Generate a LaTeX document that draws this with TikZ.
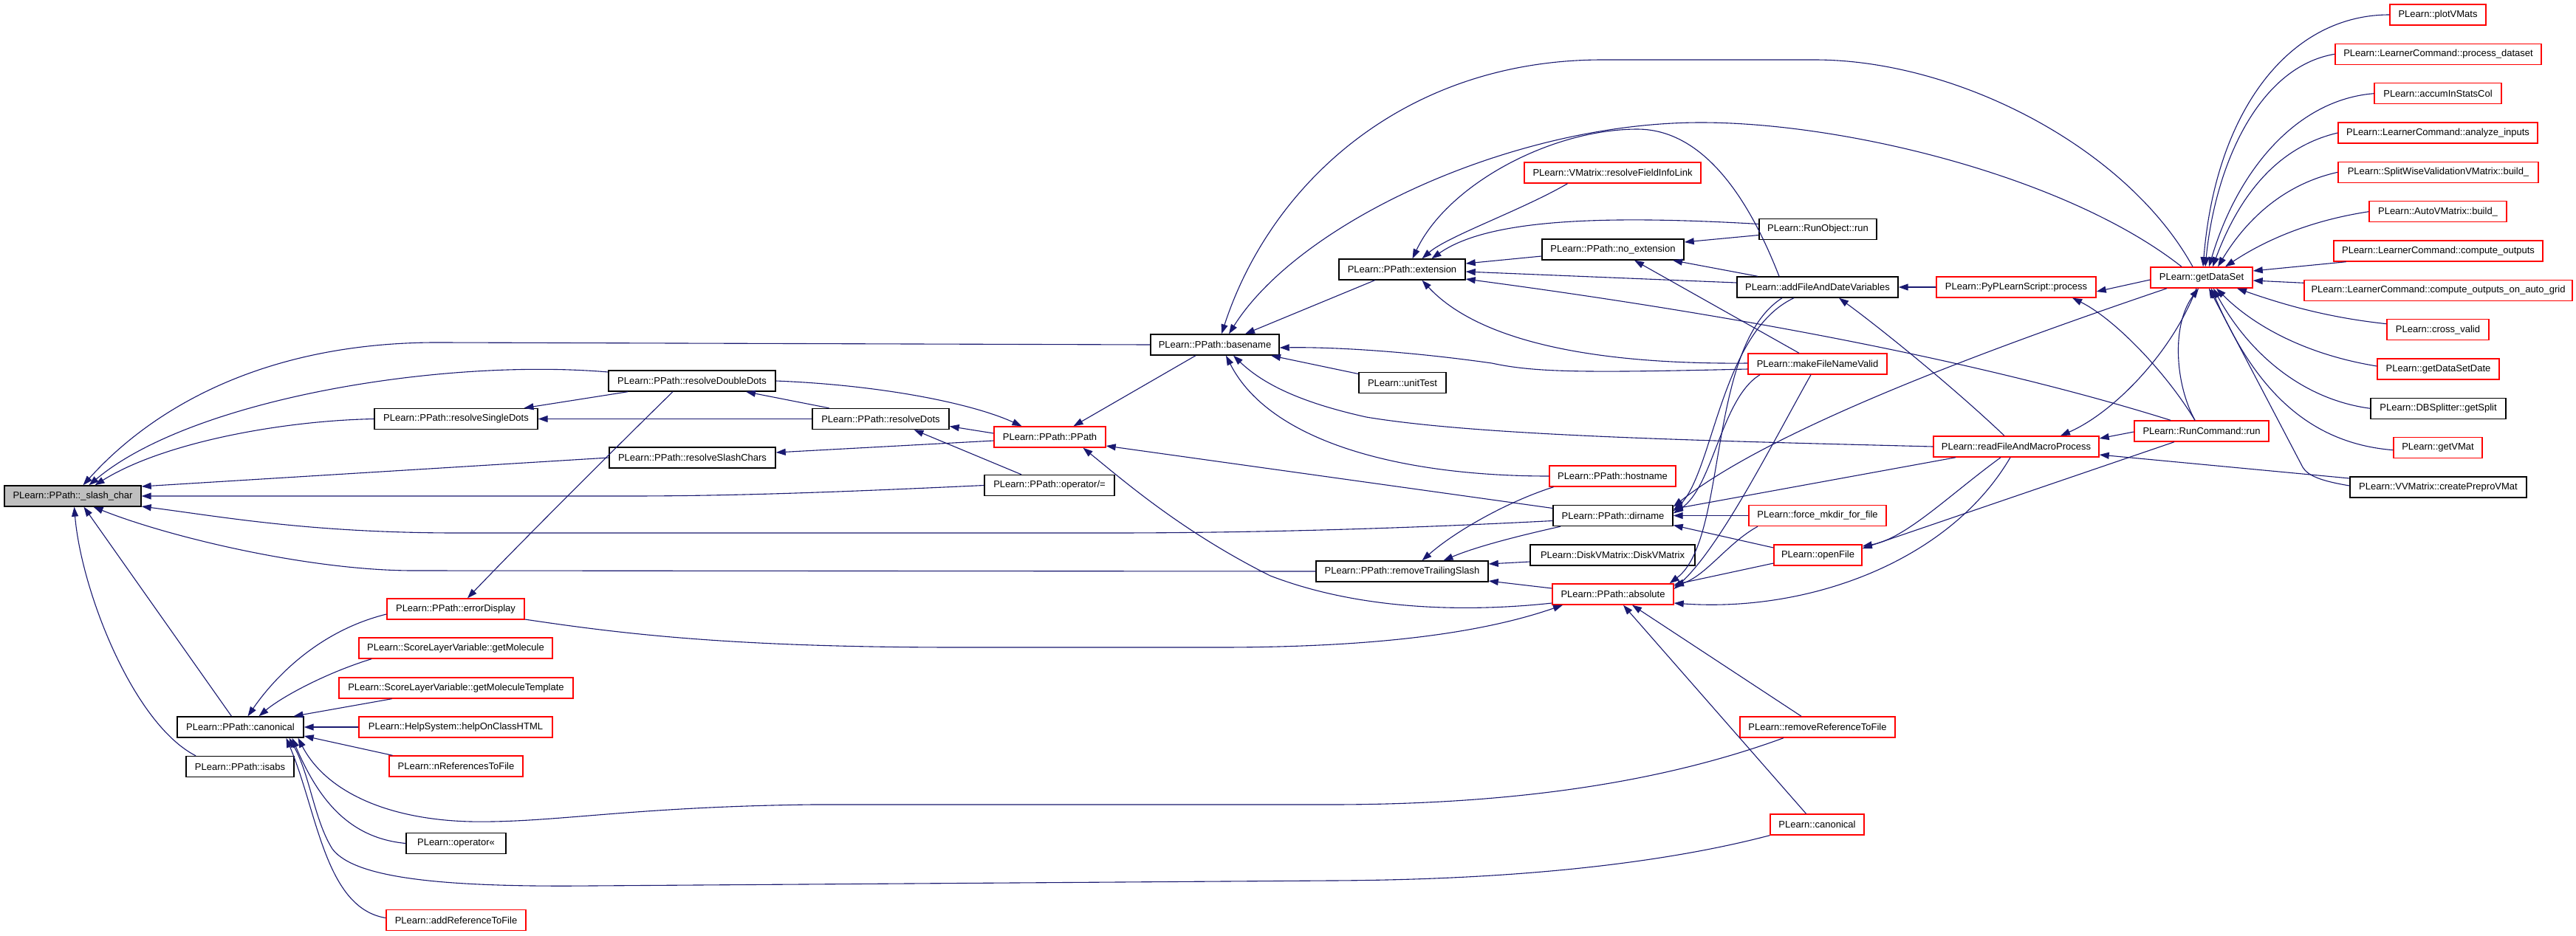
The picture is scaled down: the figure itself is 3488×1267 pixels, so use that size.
\documentclass[tikz,border=0pt]{standalone}
\usepackage{fontspec}
\setmainfont{Liberation Sans}
\usetikzlibrary{arrows.meta}
\definecolor{edgeblue}{HTML}{191970}
\definecolor{nodegray}{HTML}{BFBFBF}
\begin{document}
\begin{tikzpicture}[x=1pt,y=-1pt,
	fn/.style={draw=black, fill=white, line width=1.4pt, minimum height=28pt, inner xsep=3pt, inner ysep=0pt, font=\fontsize{13}{15}\selectfont},
	fnred/.style={fn, draw=red},
	call/.style={draw=edgeblue, line width=1.1pt, -{Triangle[length=13pt,width=9pt]}}]
	\useasboundingbox (0,0) rectangle (3488,1267);
	\fill[white] (0,0) rectangle (3488,1267);
	% functions, from the callee on the left to the callers on the right
	\node[fn, fill=nodegray, minimum width=185pt] (slash) at (98.5,672) {PLearn::PPath::\_slash\_char};
	\node[fn, minimum width=171pt] (canon) at (325.5,985) {PLearn::PPath::canonical};
	\node[fn, minimum width=146pt] (isabs) at (325,1038.5) {PLearn::PPath::isabs};
	\node[fn, minimum width=221pt] (rsingle) at (617.5,567.5) {PLearn::PPath::resolveSingleDots};
	\node[fnred, minimum width=186pt] (errdisp) at (617,825) {PLearn::PPath::errorDisplay};
	\node[fnred, minimum width=262pt] (getmol) at (617,878) {PLearn::ScoreLayerVariable::getMolecule};
	\node[fnred, minimum width=317pt] (getmolt) at (617.5,932) {PLearn::ScoreLayerVariable::getMoleculeTemplate};
	\node[fnred, minimum width=262pt] (helpon) at (617,985) {PLearn::HelpSystem::helpOnClassHTML};
	\node[fnred, minimum width=181pt] (nref) at (617.5,1038) {PLearn::nReferencesToFile};
	\node[fn, minimum width=135pt] (oplt) at (617.5,1142.5) {PLearn::operator<<};
	\node[fnred, minimum width=189pt] (addref) at (617.5,1246.5) {PLearn::addReferenceToFile};
	\node[fn, minimum width=226pt] (rdouble) at (937,516) {PLearn::PPath::resolveDoubleDots};
	\node[fn, minimum width=225pt] (rslash) at (937.5,620) {PLearn::PPath::resolveSlashChars};
	\node[fn, minimum width=185pt] (rdots) at (1192.5,567.5) {PLearn::PPath::resolveDots};
	\node[fnred, minimum width=151pt] (ppath) at (1421.5,592) {PLearn::PPath::PPath};
	\node[fn, minimum width=176pt] (opdiv) at (1421,657.5) {PLearn::PPath::operator/=};
	\node[fn, minimum width=174pt] (basename) at (1645,467) {PLearn::PPath::basename};
	\node[fn, minimum width=171pt] (extension) at (1898.5,365) {PLearn::PPath::extension};
	\node[fn, minimum width=118pt] (unittest) at (1899,518.5) {PLearn::unitTest};
	\node[fn, minimum width=233pt] (rtrail) at (1898.5,774) {PLearn::PPath::removeTrailingSlash};
	\node[fnred, minimum width=239pt] (rfil) at (2183.5,234) {PLearn::VMatrix::resolveFieldInfoLink};
	\node[fn, minimum width=192pt] (noext) at (2184,338) {PLearn::PPath::no\_extension};
	\node[fnred, minimum width=171pt] (hostname) at (2183.5,645) {PLearn::PPath::hostname};
	\node[fn, minimum width=162pt] (dirname) at (2184,698.5) {PLearn::PPath::dirname};
	\node[fn, minimum width=223pt] (diskvm) at (2183.5,752) {PLearn::DiskVMatrix::DiskVMatrix};
	\node[fnred, minimum width=164pt] (absolute) at (2184,805) {PLearn::PPath::absolute};
	\node[fn, minimum width=159pt] (runobj) at (2461.5,310.5) {PLearn::RunObject::run};
	\node[fn, minimum width=218pt] (addfile) at (2461,389) {PLearn::addFileAndDateVariables};
	\node[fnred, minimum width=188pt] (mkvalid) at (2461,493) {PLearn::makeFileNameValid};
	\node[fnred, minimum width=186pt] (mkdir) at (2461,698.5) {PLearn::force\_mkdir\_for\_file};
	\node[fnred, minimum width=119pt] (openfile) at (2461.5,752) {PLearn::openFile};
	\node[fnred, minimum width=210pt] (rmref) at (2461,985) {PLearn::removeReferenceToFile};
	\node[fnred, minimum width=127pt] (canonred) at (2460.5,1117) {PLearn::canonical};
	\node[fnred, minimum width=216pt] (pyproc) at (2730,389) {PLearn::PyPLearnScript::process};
	\node[fnred, minimum width=224pt] (readfile) at (2730,605) {PLearn::readFileAndMacroProcess};
	\node[fnred, minimum width=138pt] (getds) at (2981,376) {PLearn::getDataSet};
	\node[fnred, minimum width=182pt] (runcmd) at (2981,584) {PLearn::RunCommand::run};
	\node[fnred, minimum width=130pt] (plotvm) at (3301,20) {PLearn::plotVMats};
	\node[fnred, minimum width=279pt] (procds) at (3301.5,73.3) {PLearn::LearnerCommand::process\_dataset};
	\node[fnred, minimum width=172pt] (accum) at (3301,126.7) {PLearn::accumInStatsCol};
	\node[fnred, minimum width=270pt] (analyze) at (3301,180) {PLearn::LearnerCommand::analyze\_inputs};
	\node[fnred, minimum width=271pt] (splitwise) at (3301.5,233.3) {PLearn::SplitWiseValidationVMatrix::build\_};
	\node[fnred, minimum width=186pt] (autovm) at (3301,286.7) {PLearn::AutoVMatrix::build\_};
	\node[fnred, minimum width=283pt] (compout) at (3301.5,340) {PLearn::LearnerCommand::compute\_outputs};
	\node[fnred, minimum width=363pt] (compgrid) at (3301.5,393.3) {PLearn::LearnerCommand::compute\_outputs\_on\_auto\_grid};
	\node[fnred, minimum width=138pt] (crossv) at (3301,446.7) {PLearn::cross\_valid};
	\node[fnred, minimum width=165pt] (getdsdate) at (3301.5,500) {PLearn::getDataSetDate};
	\node[fn, minimum width=183pt] (dbsplit) at (3301.5,553.3) {PLearn::DBSplitter::getSplit};
	\node[fnred, minimum width=120pt] (getvmat) at (3301,606.7) {PLearn::getVMat};
	\node[fn, minimum width=239pt] (prepro) at (3301.5,660) {PLearn::VVMatrix::createPreproVMat};
	% calls into _slash_char
	\draw[call] (basename.west) -- (600,464) .. controls (350,462) and (200,560) .. ([xshift=14pt]slash.north);
	\draw[call] ([yshift=12pt]rdouble.west) .. controls (600,485) and (260,540) .. ([xshift=22pt]slash.north);
	\draw[call] (rsingle.west) .. controls (380,570) and (220,600) .. ([xshift=30pt]slash.north);
	\draw[call] (rslash.west) -- ([yshift=13pt]slash.east);
	\draw[call] (opdiv.west) .. controls (1150,666) and (1000,672) .. (850,672) -- (slash.east);
	\draw[call] ([yshift=-7pt]dirname.west) .. controls (1900,716) and (1700,722) .. (1500,722) -- (620,722) .. controls (420,722) and (300,700) .. ([yshift=-14pt]slash.east);
	\draw[call] (rtrail.west) -- (560,773) .. controls (420,773) and (230,728) .. ([xshift=28pt]slash.south);
	\draw[call] ([xshift=-60pt]isabs.north) .. controls (180,980) and (110,800) .. ([xshift=2pt]slash.south);
	\draw[call] ([xshift=-12pt]canon.north) -- ([xshift=15pt]slash.south);
	% PPath helpers
	\draw[call] ([xshift=-87pt]rdouble.south) -- ([xshift=92pt]rsingle.north);
	\draw[call] (rdots.west) -- (rsingle.east);
	\draw[call] ([xshift=-70pt]rdots.north) -- ([xshift=73pt]rdouble.south);
	\draw[call] ([xshift=-26pt]rdouble.south) .. controls (830,610) and (700,740) .. ([xshift=16pt]errdisp.north);
	\draw[call] (rdouble.east) .. controls (1200,522) and (1320,548) .. ([xshift=-38pt]ppath.north);
	\draw[call] ([yshift=5pt]ppath.west) -- ([yshift=-10pt]rdots.east);
	\draw[call] ([yshift=-5pt]ppath.west) -- ([yshift=7pt]rslash.east);
	\draw[call] ([xshift=-38pt]opdiv.north) -- ([xshift=45pt]rdots.south);
	\draw[call] ([xshift=-26pt]basename.south) -- ([xshift=32pt]ppath.north);
	\draw[call] ([yshift=10pt]dirname.west) -- ([yshift=-12pt]ppath.east);
	\draw[call] ([yshift=-12pt]absolute.west) .. controls (2000,828) and (1850,830) .. (1720,780) .. controls (1600,720) and (1520,650) .. ([xshift=45pt]ppath.south);
	% basename and extension
	\draw[call] ([xshift=-37pt]extension.south) -- ([xshift=41pt]basename.north);
	\draw[call] ([yshift=12pt]unittest.west) -- ([xshift=76pt]basename.south);
	\draw[call] (hostname.west) .. controls (1900,645) and (1720,600) .. ([xshift=15pt]basename.south);
	\draw[call] (readfile.west) .. controls (2300,597) and (2000,590) .. (1850,565) .. controls (1760,545) and (1710,520) .. ([xshift=25pt]basename.south);
	\draw[call] ([yshift=-7pt]mkvalid.west) .. controls (2150,505) and (2080,505) .. (2020,492) .. controls (1900,475) and (1800,470) .. ([yshift=-4pt]basename.east);
	\draw[call] ([yshift=1pt]mkvalid.west) .. controls (2150,494) and (2000,460) .. ([xshift=27pt]extension.south);
	\draw[call] ([xshift=-12pt]getds.north) .. controls (2880,200) and (2650,81) .. (2457,81) -- (2170,81) .. controls (1900,81) and (1720,250) .. ([xshift=9pt]basename.north);
	\draw[call] ([xshift=-27pt]getds.north) .. controls (2800,240) and (2500,166) .. (2303,166) .. controls (2050,166) and (1760,300) .. ([xshift=19pt]basename.north);
	\draw[call] ([xshift=-52pt]addfile.north) .. controls (2380,300) and (2320,175) .. (2217,175) .. controls (2100,175) and (1960,250) .. ([xshift=14pt]extension.north);
	\draw[call] ([xshift=-61pt]rfil.south) .. controls (2060,285) and (1960,320) .. ([xshift=27pt]extension.north);
	\draw[call] ([yshift=7pt]runobj.west) .. controls (2150,290) and (2010,300) .. ([xshift=40pt]extension.north);
	\draw[call] ([yshift=-8pt]runobj.west) -- ([yshift=10pt]noext.east);
	\draw[call] ([yshift=-9pt]noext.west) -- ([yshift=8pt]extension.east);
	\draw[call] ([yshift=6pt]addfile.west) -- ([yshift=-3pt]extension.east);
	\draw[call] ([xshift=-42pt]runcmd.north) .. controls (2750,510) and (2450,440) .. ([yshift=-13pt]extension.east);
	\draw[call] ([xshift=-81pt]addfile.north) -- ([xshift=81pt]noext.south);
	\draw[call] ([xshift=-25pt]mkvalid.north) -- ([xshift=29pt]noext.south);
	% scripts and commands
	\draw[call] (pyproc.west) -- (addfile.east);
	\draw[call] ([yshift=-3pt]getds.west) -- ([yshift=-6pt]pyproc.east);
	\draw[call] ([xshift=-9pt]runcmd.north) .. controls (2930,500) and (2860,430) .. ([xshift=76pt]pyproc.south);
	\draw[call] ([xshift=-16pt]readfile.north) .. controls (2640,520) and (2540,440) .. ([xshift=29pt]addfile.south);
	\draw[call] ([xshift=-7pt]getds.south) .. controls (2940,480) and (2860,560) .. ([xshift=60pt]readfile.north);
	\draw[call] ([yshift=-1pt]runcmd.west) -- ([yshift=11pt]readfile.east);
	\draw[call] ([yshift=12pt]prepro.west) -- ([yshift=-11pt]readfile.east);
	\draw[call] ([yshift=2pt]prepro.west) .. controls (3145,652) and (3125,645) .. (3118,633) -- ([xshift=10pt]getds.south);
	\draw[call] ([xshift=-9pt]runcmd.north) .. controls (2945,520) and (2940,440) .. ([xshift=-4pt]getds.south);
	% callers of getDataSet
	\draw[call] (plotvm.west) .. controls (3100,20) and (3000,150) .. ([xshift=2pt]getds.north);
	\draw[call] (procds.west) .. controls (3060,90) and (3000,220) .. ([xshift=5pt]getds.north);
	\draw[call] (accum.west) .. controls (3110,135) and (3030,230) .. ([xshift=10pt]getds.north);
	\draw[call] (analyze.west) .. controls (3080,200) and (3030,270) .. ([xshift=15pt]getds.north);
	\draw[call] (splitwise.west) .. controls (3090,250) and (3040,300) .. ([xshift=22pt]getds.north);
	\draw[call] (autovm.west) .. controls (3120,300) and (3060,330) .. ([xshift=32pt]getds.north);
	\draw[call] ([xshift=-125pt]compout.south) -- ([yshift=9pt]getds.east);
	\draw[call] ([yshift=10pt]compgrid.west) -- ([yshift=-4pt]getds.east);
	\draw[call] ([yshift=8pt]crossv.west) .. controls (3150,430) and (3090,412) .. ([xshift=48pt]getds.south);
	\draw[call] ([yshift=4pt]getdsdate.west) .. controls (3120,480) and (3050,440) .. ([xshift=20pt]getds.south);
	\draw[call] (dbsplit.west) .. controls (3110,540) and (3040,470) .. ([xshift=16pt]getds.south);
	\draw[call] ([yshift=-3pt]getvmat.west) .. controls (3120,600) and (3050,520) .. ([xshift=13pt]getds.south);
	% dirname and absolute
	\draw[call] ([xshift=-47pt]getds.south) .. controls (2700,470) and (2400,580) .. ([yshift=12pt]dirname.east);
	\draw[call] ([xshift=-82pt]readfile.south) -- ([yshift=9pt]dirname.east);
	\draw[call] ([xshift=-21pt]readfile.south) .. controls (2640,670) and (2580,730) .. ([yshift=12pt]openfile.east);
	\draw[call] ([xshift=-37pt]runcmd.south) -- ([yshift=9pt]openfile.east);
	\draw[call] ([xshift=-8pt]readfile.south) .. controls (2640,760) and (2450,830) .. ([yshift=-12pt]absolute.east);
	\draw[call] (mkdir.west) -- (dirname.east);
	\draw[call] ([yshift=10pt]openfile.west) -- ([yshift=-13pt]dirname.east);
	\draw[call] ([yshift=-11pt]openfile.west) -- ([yshift=13pt]absolute.east);
	\draw[call] ([xshift=-81pt]mkdir.south) .. controls (2340,735) and (2310,780) .. ([yshift=11pt]absolute.east);
	\draw[call] ([xshift=-32pt]addfile.south) .. controls (2330,450) and (2320,640) .. ([yshift=6pt]dirname.east);
	\draw[call] ([xshift=-48pt]addfile.south) .. controls (2310,470) and (2340,730) .. ([xshift=-6pt]absolute.north east);
	\draw[call] ([xshift=-78pt]mkvalid.south) .. controls (2330,540) and (2320,660) .. ([yshift=3pt]dirname.east);
	\draw[call] ([xshift=-9pt]mkvalid.south) .. controls (2400,600) and (2330,740) .. ([yshift=7pt]absolute.east);
	\draw[call] ([xshift=-71pt]dirname.south) .. controls (2060,725) and (2000,740) .. ([xshift=56pt]rtrail.north);
	\draw[call] ([xshift=-80pt]hostname.south) .. controls (2040,680) and (1970,720) .. ([xshift=27pt]rtrail.north);
	\draw[call] ([yshift=-9pt]diskvm.west) -- ([yshift=10pt]rtrail.east);
	\draw[call] ([yshift=8pt]absolute.west) -- ([yshift=-13pt]rtrail.east);
	\draw[call] ([yshift=-14pt]errdisp.east) .. controls (850,860) and (1000,877) .. (1300,877) -- (1650,877) .. controls (1850,877) and (2000,860) .. ([xshift=-68pt]absolute.south);
	\draw[call] ([xshift=-22pt]rmref.north) -- ([xshift=26pt]absolute.south);
	\draw[call] ([xshift=-15pt]canonred.north) -- ([xshift=14pt]absolute.south);
	% callers of canonical
	\draw[call] ([xshift=-46pt]rmref.south) .. controls (2250,1060) and (2050,1090) .. (1800,1090) -- (1100,1090) .. controls (850,1093) and (750,1115) .. (637,1113) .. controls (520,1110) and (440,1070) .. ([xshift=78pt]canon.south);
	\draw[call] (oplt.west) .. controls (470,1135) and (430,1080) .. ([xshift=70pt]canon.south);
	\draw[call] (canonred.south west) .. controls (2250,1170) and (2050,1192) .. (1800,1193) -- (800,1200) .. controls (600,1202) and (480,1190) .. (450,1150) .. controls (425,1110) and (420,1050) .. ([xshift=66pt]canon.south);
	\draw[call] ([yshift=3pt]addref.west) .. controls (440,1230) and (430,1100) .. ([xshift=62pt]canon.south);
	\draw[call] ([xshift=-86pt]nref.north) -- ([yshift=-12pt]canon.east);
	\draw[call] (helpon.west) -- (canon.east);
	\draw[call] ([xshift=-87pt]getmolt.south) -- ([xshift=72pt]canon.north);
	\draw[call] ([xshift=-114pt]getmol.south) .. controls (440,912) and (380,945) .. ([xshift=25pt]canon.north);
	\draw[call] ([yshift=-7pt]errdisp.west) .. controls (430,855) and (370,920) .. ([xshift=10pt]canon.north);
\end{tikzpicture}
\end{document}
